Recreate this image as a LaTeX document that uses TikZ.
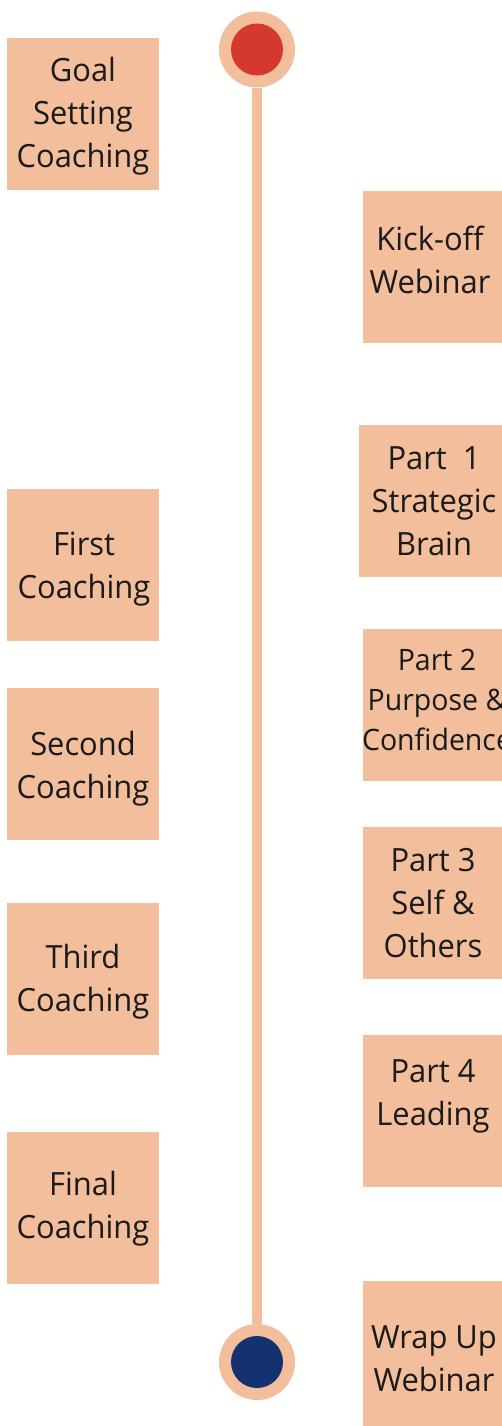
\documentclass[tikz,border=0pt]{standalone}
\usepackage{fontspec}
\setmainfont{Open Sans}[FakeStretch=0.965]
\definecolor{peach}{HTML}{F2BE9B}
\definecolor{startred}{HTML}{D5382E}
\definecolor{endnavy}{HTML}{153270}
\definecolor{ink}{HTML}{1A1A1A}
\tikzset{
  box/.style={rectangle, fill=peach, draw=none, inner sep=0pt, minimum width=152pt, minimum height=152pt},
  lbl/.style={anchor=base, inner sep=0pt, text=ink, font=\fontsize{32}{43}\selectfont},
  lblsmall/.style={anchor=base, inner sep=0pt, text=ink, font=\fontsize{29.5}{40}\selectfont},
  ring/.style={circle, fill=peach, draw=none, inner sep=0pt, minimum size=76pt},
  dotred/.style={circle, fill=startred, draw=none, inner sep=0pt, minimum size=52pt},
  dotnavy/.style={circle, fill=endnavy, draw=none, inner sep=0pt, minimum size=52pt},
  axis/.style={draw=peach, line width=10pt}
}
\newcommand{\lines}[1]{\begin{tabular}[t]{@{}c@{}}#1\end{tabular}}
\begin{document}
\begin{tikzpicture}[x=1pt,y=-1pt]
\useasboundingbox (0,0) rectangle (502,1426);
% timeline
\node[ring] (start) at (257,49.5) {};
\node[dotred] (startdot) at (start) {};
\node[ring] (end) at (257,1362) {};
\node[dotnavy] (enddot) at (end) {};
\draw[axis] (start.south) -- (end.north);
% left boxes
\node[box] (goal) at (83,114) {};
\node[lbl] (goalt) at (83,82) {\lines{Goal\\Setting\\Coaching}};
\node[box] (first) at (83,565) {};
\node[lbl] (firstt) at (84,555) {\lines{First\\Coaching}};
\node[box] (second) at (83,764) {};
\node[lbl] (secondt) at (83,755) {\lines{Second\\Coaching}};
\node[box] (third) at (83,979) {};
\node[lbl] (thirdt) at (83,968) {\lines{Third\\Coaching}};
\node[box] (final) at (83,1208) {};
\node[lbl] (finalt) at (83,1195) {\lines{Final\\Coaching}};
% right boxes
\node[box] (kick) at (439,267) {};
\node[lbl] (kickt) at (430,250) {\lines{Kick-off\\Webinar}};
\node[box] (part1) at (435,501) {};
\node[lbl] (part1t) at (434,469) {\lines{Part\ \ 1\\Strategic\\Brain}};
\node[box] (part2) at (439,705) {};
\node[lblsmall] (part2t) at (437,670) {\lines{Part 2\\Purpose \&\\Confidence}};
\node[box] (part3) at (439,903) {};
\node[lbl] (part3t) at (433,871) {\lines{Part 3\\Self \&\\Others}};
\node[box] (part4) at (439,1111) {};
\node[lbl] (part4t) at (433,1082) {\lines{Part 4\\Leading}};
\node[box] (wrap) at (439,1357) {};
\node[lbl] (wrapt) at (434,1348) {\lines{Wrap Up\\Webinar}};
\end{tikzpicture}
\end{document}
